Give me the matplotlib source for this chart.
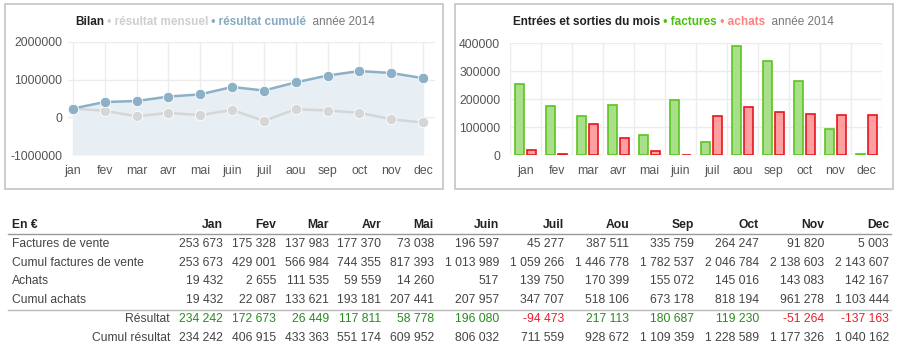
import matplotlib
matplotlib.use('Agg')
import matplotlib.pyplot as plt
from matplotlib.patches import Rectangle
from matplotlib.lines import Line2D
import numpy as np

plt.rcParams['font.family'] = ['Liberation Sans', 'DejaVu Sans']

# data
mois = ['jan', 'fev', 'mar', 'avr', 'mai', 'juin', 'juil', 'aou', 'sep', 'oct', 'nov', 'dec']
mois_table = ['Jan', 'Fev', 'Mar', 'Avr', 'Mai', 'Juin', 'Juil', 'Aou', 'Sep', 'Oct', 'Nov', 'Dec']
factures = [253673, 175328, 137983, 177370, 73038, 196597, 45277, 387511, 335759, 264247, 91820, 5003]
cumul_factures = [253673, 429001, 566984, 744355, 817393, 1013989, 1059266, 1446778, 1782537, 2046784, 2138603, 2143607]
achats = [19432, 2655, 111535, 59559, 14260, 517, 139750, 170399, 155072, 145016, 143083, 142167]
cumul_achats = [19432, 22087, 133621, 193181, 207441, 207957, 347707, 518106, 673178, 818194, 961278, 1103444]
resultat = [234242, 172673, 26449, 117811, 58778, 196080, -94473, 217113, 180687, 119230, -51264, -137163]
cumul_resultat = [234242, 406915, 433363, 551174, 609952, 806032, 711559, 928672, 1109359, 1228589, 1177326, 1040162]

W, H = 900, 352
fig = plt.figure(figsize=(W / 100, H / 100), dpi=100)


def fx(x):
    return x / W


def fy(y):
    return 1 - y / H


def box(x0, y0, x1, y1):
    fig.add_artist(Rectangle((fx(x0), fy(y1)), fx(x1 - x0), (y1 - y0) / H,
                             transform=fig.transFigure, fill=False,
                             edgecolor='#c8c8c8', lw=1.3))


def titre(x, y, parts):
    # pieces of text placed one after another
    fig.canvas.draw()
    r = fig.canvas.get_renderer()
    cur = fx(x)
    for s, c, w in parts:
        t = fig.text(cur, fy(y), s, color=c, fontweight=w, fontsize=8.5, va='center', ha='left')
        bb = t.get_window_extent(renderer=r)
        cur += bb.width / W


grid_c = '#ececec'
x = np.arange(12)

# ---- Bilan
box(5, 4, 443, 189)
ax1 = fig.add_axes([fx(68), fy(155), fx(435 - 68), (155 - 42) / H])
ax1.set_xlim(-0.157, 11.377)
ax1.set_ylim(-1000000, 2000000)
ax1.fill_between(x, cumul_resultat, -1000000, color='#e7eff4', lw=0)
ax1.plot(x, resultat, color='#d6d6d6', lw=1.8, marker='o', ms=7.5, mec='white', mew=0.6, zorder=3)
ax1.plot(x, cumul_resultat, color='#8cb0c6', lw=1.8, marker='o', ms=7.5, mec='white', mew=0.6, zorder=4)
ax1.set_xticks(x)
ax1.set_xticklabels(mois)
ax1.set_yticks([-1000000, 0, 1000000, 2000000])
ax1.set_yticklabels(['-1000000', '0', '1000000', '2000000'])
ax1.grid(True, color=grid_c, lw=1)
ax1.set_axisbelow(True)
ax1.tick_params(length=0, labelsize=8.8, labelcolor='#555')
ax1.tick_params(axis='x', pad=7)
ax1.tick_params(axis='y', pad=4)
for s in ax1.spines.values():
    s.set_visible(False)

# ---- Entrées / sorties
box(455, 4, 893, 189)
ax2 = fig.add_axes([fx(510), fy(155), fx(882 - 510), (155 - 43) / H])
ax2.set_xlim(-0.5, 11.5)
ax2.set_ylim(0, 400000)
bw = 0.3
ax2.bar(x - 0.185, factures, bw, color='#a9df8a', edgecolor='#5cc41e', lw=1.2, zorder=3)
ax2.bar(x + 0.185, achats, bw, color='#ff9f9f', edgecolor='#e8141e', lw=1.2, zorder=3)
ax2.set_xticks(x)
ax2.set_xticklabels(mois)
ax2.set_xticks(np.arange(-0.5, 12, 1), minor=True)
ax2.set_yticks([0, 100000, 200000, 300000, 400000])
ax2.set_yticklabels(['0', '100000', '200000', '300000', '400000'])
ax2.yaxis.grid(True, color=grid_c, lw=1)
ax2.xaxis.grid(True, which='minor', color=grid_c, lw=1)
ax2.set_axisbelow(True)
ax2.tick_params(which='both', length=0, labelsize=8.8, labelcolor='#555')
ax2.tick_params(axis='x', pad=7)
ax2.tick_params(axis='y', pad=7)
for s in ax2.spines.values():
    s.set_visible(False)

titre(75, 22, [('Bilan', '#222222', 'bold'), (' • résultat mensuel', '#cfcfcf', 'bold'),
               (' • résultat cumulé', '#86aac0', 'bold'), ('  année 2014', '#777777', 'normal')])
titre(513, 22, [('Entrées et sorties du mois', '#222222', 'bold'), (' • factures', '#4cc010', 'bold'),
                (' • achats', '#ff8080', 'bold'), ('  année 2014', '#777777', 'normal')])

# ---- table
def fmt(v):
    s = '{:,}'.format(abs(v)).replace(',', ' ')
    return '-' + s if v < 0 else s


col_r = [223, 276, 329, 381, 434, 499, 564, 629, 694, 759, 824, 889]
row_y = [244, 262.7, 281.5, 300, 319.3, 338.3]
fs = 8.7

fig.text(fx(12), fy(225), 'En €', fontweight='bold', fontsize=fs, color='#222', va='center')
for m, cx in zip(mois_table, col_r):
    fig.text(fx(cx), fy(225), m, fontweight='bold', fontsize=fs, color='#222', va='center', ha='right')

fig.add_artist(Line2D([fx(8), fx(891)], [fy(234.3), fy(234.3)], transform=fig.transFigure, color='#999', lw=1))
fig.add_artist(Line2D([fx(8), fx(891)], [fy(310), fy(310)], transform=fig.transFigure, color='#bbb', lw=1))

lignes = [('Factures de vente', factures), ('Cumul factures de vente', cumul_factures),
          ('Achats', achats), ('Cumul achats', cumul_achats)]
for (lab, vals), yy in zip(lignes, row_y[:4]):
    fig.text(fx(12), fy(yy), lab, fontsize=fs, color='#444', va='center')
    for v, cx in zip(vals, col_r):
        fig.text(fx(cx), fy(yy), fmt(v), fontsize=fs, color='#444', va='center', ha='right')

fig.text(fx(170), fy(row_y[4]), 'Résultat', fontsize=fs, color='#444', va='center', ha='right')
for v, cx in zip(resultat, col_r):
    c = '#2a8a22' if v >= 0 else '#e8202a'
    fig.text(fx(cx), fy(row_y[4]), fmt(v), fontsize=fs, color=c, va='center', ha='right')

fig.text(fx(170), fy(row_y[5]), 'Cumul résultat', fontsize=fs, color='#444', va='center', ha='right')
for v, cx in zip(cumul_resultat, col_r):
    fig.text(fx(cx), fy(row_y[5]), fmt(v), fontsize=fs, color='#444', va='center', ha='right')

fig.savefig('out.png', dpi=100, facecolor='white')
